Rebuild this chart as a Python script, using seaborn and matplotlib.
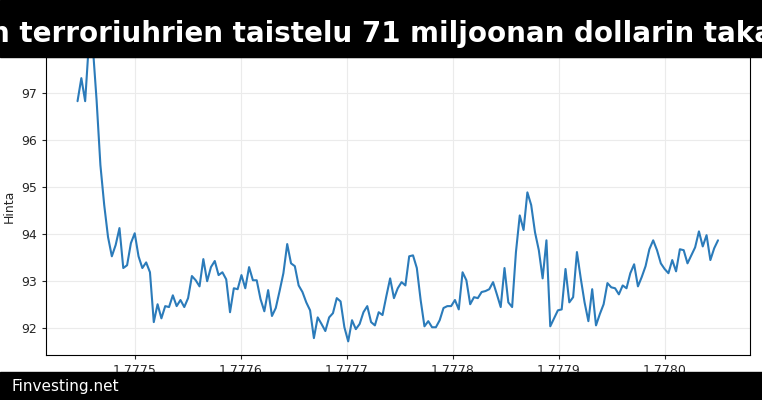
import matplotlib
matplotlib.use("Agg")
import matplotlib.pyplot as plt
import numpy as np
import pandas as pd
import seaborn as sns

title = "n terroriuhrien taistelu 71 miljoonan dollarin taka"
footer = "Finvesting.net"
ylabel = "Hinta"

x_start, x_end = 1.777446, 1.778050
prices = [
    96.83, 97.32, 96.83, 98.1, 98.0, 96.85, 95.47, 94.62, 93.94, 93.53,
    93.77, 94.13, 93.28, 93.34, 93.81, 94.02, 93.53, 93.28, 93.40, 93.19,
    92.13, 92.51, 92.21, 92.47, 92.45, 92.70, 92.47, 92.60, 92.45, 92.64,
    93.11, 93.02, 92.89, 93.47, 93.00, 93.30, 93.43, 93.13, 93.19, 93.04,
    92.34, 92.85, 92.83, 93.13, 92.85, 93.30, 93.02, 93.02, 92.62, 92.36,
    92.81, 92.26, 92.43, 92.79, 93.17, 93.79, 93.38, 93.32, 92.91, 92.77,
    92.55, 92.38, 91.79, 92.23, 92.09, 91.94, 92.23, 92.32, 92.64, 92.57,
    92.02, 91.72, 92.17, 91.98, 92.09, 92.34, 92.47, 92.13, 92.06, 92.34,
    92.28, 92.68, 93.06, 92.64, 92.85, 92.98, 92.91, 93.53, 93.55, 93.28,
    92.60, 92.04, 92.15, 92.02, 92.02, 92.17, 92.43, 92.47, 92.47, 92.60,
    92.40, 93.19, 93.02, 92.51, 92.66, 92.64, 92.77, 92.79, 92.83, 92.98,
    92.72, 92.45, 93.28, 92.55, 92.45, 93.62, 94.40, 94.09, 94.89, 94.62,
    94.04, 93.66, 93.06, 93.87, 92.04, 92.21, 92.38, 92.40, 93.26, 92.55,
    92.66, 93.62, 93.06, 92.55, 92.15, 92.83, 92.06, 92.30, 92.51, 92.96,
    92.87, 92.85, 92.72, 92.91, 92.85, 93.17, 93.36, 92.89, 93.09, 93.32,
    93.68, 93.87, 93.66, 93.38, 93.26, 93.17, 93.45, 93.21, 93.68, 93.66,
    93.38, 93.55, 93.72, 94.06, 93.74, 93.98, 93.45, 93.70, 93.87,
]

df = pd.DataFrame({"x": np.linspace(x_start, x_end, len(prices)), "price": prices})

sns.set_style("whitegrid", {"axes.edgecolor": "black", "grid.color": "#ebebeb"})
fig = plt.figure(figsize=(7.62, 4), dpi=100)
ax = fig.add_axes([0.060, 0.1125, 0.924, 0.745])
sns.lineplot(data=df, x="x", y="price", ax=ax, color="#2b7bba", linewidth=1.5)
ax.set_xlim(1.777416, 1.777416 + 0.000664)
ax.set_ylim(91.43, 97.77)
ax.set_xticks([1.7775, 1.7776, 1.7777, 1.7778, 1.7779, 1.7780])
ax.set_xticklabels(["1.7775", "1.7776", "1.7777", "1.7778", "1.7779", "1.7780"])
ax.set_yticks([92, 93, 94, 95, 96, 97])
ax.tick_params(labelsize=9, length=3, left=True, bottom=True)
ax.set_xlabel("")
ax.set_ylabel(ylabel, fontsize=9)

# black bands for title and footer
fig.patches.append(plt.Rectangle((0, 0.8575), 1, 0.1425, transform=fig.transFigure,
                                 color="black", zorder=5))
fig.patches.append(plt.Rectangle((0, 0), 1, 0.07, transform=fig.transFigure,
                                 color="black", zorder=5))
fig.text(0.5, 0.915, title, color="white", fontsize=20, fontweight="bold",
         ha="center", va="center", zorder=6)
fig.text(0.015, 0.035, footer, color="white", fontsize=11, ha="left",
         va="center", zorder=6)

fig.savefig("out.png", dpi=100)
